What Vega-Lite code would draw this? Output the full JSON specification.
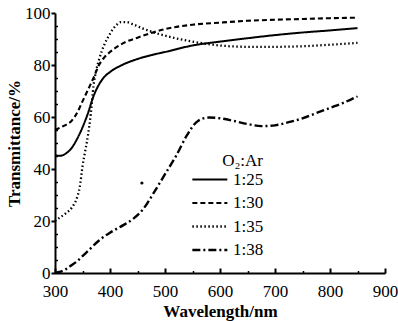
{
  "$schema": "https://vega.github.io/schema/vega-lite/v6.json",
  "width": 330,
  "height": 260,
  "autosize": {"type": "none"},
  "padding": {"left": 55, "top": 13, "right": 13, "bottom": 48},
  "background": "white",
  "config": {
    "view": {"stroke": null},
    "font": "Liberation Serif",
    "axis": {"grid": false, "domainColor": "black", "domainWidth": 2, "tickColor": "black", "labelColor": "black", "titleColor": "black", "labelFont": "Liberation Serif", "titleFont": "Liberation Serif", "labelFontSize": 17, "titleFontSize": 17, "titleFontWeight": "bold", "labelFontWeight": "normal"},
    "legend": {"labelFont": "Liberation Serif", "titleFont": "Liberation Serif"}
  },
  "datasets": {
    "curves": [
      {"series": "1:25", "w": 300, "t": 45.2},
      {"series": "1:25", "w": 310, "t": 45.1},
      {"series": "1:25", "w": 320, "t": 46},
      {"series": "1:25", "w": 330, "t": 48},
      {"series": "1:25", "w": 340, "t": 51.5},
      {"series": "1:25", "w": 350, "t": 56},
      {"series": "1:25", "w": 360, "t": 61.5},
      {"series": "1:25", "w": 370, "t": 68},
      {"series": "1:25", "w": 380, "t": 72.5},
      {"series": "1:25", "w": 390, "t": 75.5},
      {"series": "1:25", "w": 400, "t": 77.3},
      {"series": "1:25", "w": 425, "t": 80.3},
      {"series": "1:25", "w": 450, "t": 82.3},
      {"series": "1:25", "w": 475, "t": 83.8},
      {"series": "1:25", "w": 500, "t": 85},
      {"series": "1:25", "w": 550, "t": 87.5},
      {"series": "1:25", "w": 600, "t": 89},
      {"series": "1:25", "w": 650, "t": 90.3},
      {"series": "1:25", "w": 700, "t": 91.5},
      {"series": "1:25", "w": 750, "t": 92.5},
      {"series": "1:25", "w": 800, "t": 93.3},
      {"series": "1:25", "w": 850, "t": 94.2},
      {"series": "1:30", "w": 300, "t": 55},
      {"series": "1:30", "w": 310, "t": 56},
      {"series": "1:30", "w": 320, "t": 57},
      {"series": "1:30", "w": 330, "t": 58.5},
      {"series": "1:30", "w": 340, "t": 61.5},
      {"series": "1:30", "w": 350, "t": 66},
      {"series": "1:30", "w": 360, "t": 70.5},
      {"series": "1:30", "w": 370, "t": 75},
      {"series": "1:30", "w": 380, "t": 80},
      {"series": "1:30", "w": 390, "t": 83},
      {"series": "1:30", "w": 400, "t": 85},
      {"series": "1:30", "w": 425, "t": 88.5},
      {"series": "1:30", "w": 450, "t": 90.5},
      {"series": "1:30", "w": 475, "t": 92.3},
      {"series": "1:30", "w": 500, "t": 93.8},
      {"series": "1:30", "w": 550, "t": 95.5},
      {"series": "1:30", "w": 600, "t": 96.3},
      {"series": "1:30", "w": 650, "t": 97},
      {"series": "1:30", "w": 700, "t": 97.4},
      {"series": "1:30", "w": 750, "t": 97.7},
      {"series": "1:30", "w": 800, "t": 98},
      {"series": "1:30", "w": 850, "t": 98.2},
      {"series": "1:35", "w": 300, "t": 20},
      {"series": "1:35", "w": 310, "t": 21.5},
      {"series": "1:35", "w": 320, "t": 23},
      {"series": "1:35", "w": 330, "t": 25},
      {"series": "1:35", "w": 340, "t": 29},
      {"series": "1:35", "w": 345, "t": 33},
      {"series": "1:35", "w": 350, "t": 41},
      {"series": "1:35", "w": 355, "t": 47},
      {"series": "1:35", "w": 360, "t": 53},
      {"series": "1:35", "w": 365, "t": 61},
      {"series": "1:35", "w": 370, "t": 72},
      {"series": "1:35", "w": 375, "t": 78},
      {"series": "1:35", "w": 380, "t": 82},
      {"series": "1:35", "w": 390, "t": 88},
      {"series": "1:35", "w": 400, "t": 92},
      {"series": "1:35", "w": 410, "t": 95},
      {"series": "1:35", "w": 420, "t": 96.5},
      {"series": "1:35", "w": 430, "t": 96.5},
      {"series": "1:35", "w": 440, "t": 95.8},
      {"series": "1:35", "w": 460, "t": 94},
      {"series": "1:35", "w": 480, "t": 92.5},
      {"series": "1:35", "w": 500, "t": 91.3},
      {"series": "1:35", "w": 525, "t": 90},
      {"series": "1:35", "w": 550, "t": 89},
      {"series": "1:35", "w": 600, "t": 87.5},
      {"series": "1:35", "w": 650, "t": 87},
      {"series": "1:35", "w": 700, "t": 87},
      {"series": "1:35", "w": 750, "t": 87.2},
      {"series": "1:35", "w": 800, "t": 87.8},
      {"series": "1:35", "w": 850, "t": 88.5},
      {"series": "1:38", "w": 300, "t": 0},
      {"series": "1:38", "w": 310, "t": 0.5},
      {"series": "1:38", "w": 320, "t": 1.5},
      {"series": "1:38", "w": 330, "t": 3},
      {"series": "1:38", "w": 340, "t": 4.5},
      {"series": "1:38", "w": 350, "t": 6.5},
      {"series": "1:38", "w": 360, "t": 8.5},
      {"series": "1:38", "w": 380, "t": 12.5},
      {"series": "1:38", "w": 400, "t": 15.5},
      {"series": "1:38", "w": 425, "t": 18.5},
      {"series": "1:38", "w": 440, "t": 20.5},
      {"series": "1:38", "w": 460, "t": 24.5},
      {"series": "1:38", "w": 480, "t": 31},
      {"series": "1:38", "w": 500, "t": 38},
      {"series": "1:38", "w": 520, "t": 45},
      {"series": "1:38", "w": 540, "t": 53},
      {"series": "1:38", "w": 560, "t": 58.5},
      {"series": "1:38", "w": 580, "t": 59.8},
      {"series": "1:38", "w": 600, "t": 59.5},
      {"series": "1:38", "w": 625, "t": 58.5},
      {"series": "1:38", "w": 650, "t": 57.3},
      {"series": "1:38", "w": 675, "t": 56.5},
      {"series": "1:38", "w": 700, "t": 56.8},
      {"series": "1:38", "w": 725, "t": 58},
      {"series": "1:38", "w": 750, "t": 59.5},
      {"series": "1:38", "w": 775, "t": 61.5},
      {"series": "1:38", "w": 800, "t": 63.5},
      {"series": "1:38", "w": 825, "t": 65.5},
      {"series": "1:38", "w": 850, "t": 68}
    ],
    "speck": [
      {"w": 458, "t": 34.6}
    ]
  },
  "layer": [
    {
      "data": {"name": "curves"},
      "mark": {"type": "line", "color": "black", "interpolate": "monotone"},
      "encoding": {
        "x": {"field": "w", "type": "quantitative", "scale": {"domain": [300, 900], "nice": false, "zero": false},
          "axis": {"orient": "bottom", "values": [300, 400, 500, 600, 700, 800, 900], "ticks": false, "labelPadding": 10, "title": "Wavelength/nm", "titlePadding": 4, "labelFlush": false}},
        "y": {"field": "t", "type": "quantitative", "scale": {"domain": [0, 100], "nice": false},
          "axis": {"orient": "left", "values": [0, 20, 40, 60, 80, 100], "tickSize": 4, "tickWidth": 2, "labelPadding": 1, "title": "Transmittance/%", "titlePadding": 1, "labelFlush": false}},
        "strokeDash": {"field": "series", "type": "nominal",
          "scale": {"domain": ["1:25", "1:30", "1:35", "1:38"], "range": [[1, 0], [5, 3], [1.5, 2.5], [8, 3, 2, 3]]},
          "legend": {"orient": "none", "legendX": 158, "legendY": 140, "title": "O₂:Ar", "titleFont": "Liberation Serif", "titleFontSize": 17, "titleFontWeight": "normal", "titleColor": "black", "titleAnchor": "end", "titlePadding": 1, "labelFont": "Liberation Serif", "labelFontSize": 17, "labelColor": "black", "labelOffset": 3, "symbolType": "M-5,0H1", "symbolSize": 136, "symbolStrokeColor": "black", "symbolStrokeWidth": 2, "rowPadding": 5.5, "padding": 0}},
        "strokeWidth": {"field": "series", "type": "nominal",
          "scale": {"domain": ["1:25", "1:30", "1:35", "1:38"], "range": [2, 2.4, 1.6, 2]}, "legend": null}
      }
    },
    {
      "data": {"name": "speck"},
      "mark": {"type": "point", "filled": true, "color": "black", "size": 10, "opacity": 1},
      "encoding": {
        "x": {"field": "w", "type": "quantitative",
          "axis": {"orient": "bottom", "values": [300, 400, 500, 600, 700, 800, 900], "tickSize": -5, "tickWidth": 2, "labels": false, "domain": false, "title": null}},
        "y": {"field": "t", "type": "quantitative",
          "axis": {"orient": "left", "values": [5, 10, 15, 25, 30, 35, 45, 50, 55, 65, 70, 75, 85, 90, 95], "tickSize": -2.5, "tickWidth": 1.5, "labels": false, "domain": false, "title": null}}
      }
    },
    {
      "data": {"name": "speck"},
      "mark": {"type": "point", "filled": true, "color": "black", "size": 10, "opacity": 0},
      "encoding": {
        "x": {"field": "w", "type": "quantitative",
          "axis": {"orient": "bottom", "values": [350, 450, 550, 650, 750, 850], "tickSize": -2.5, "tickWidth": 1.5, "labels": false, "domain": false, "title": null}},
        "y": {"field": "t", "type": "quantitative", "axis": null}
      }
    }
  ],
  "resolve": {"axis": {"x": "independent", "y": "independent"}}
}
